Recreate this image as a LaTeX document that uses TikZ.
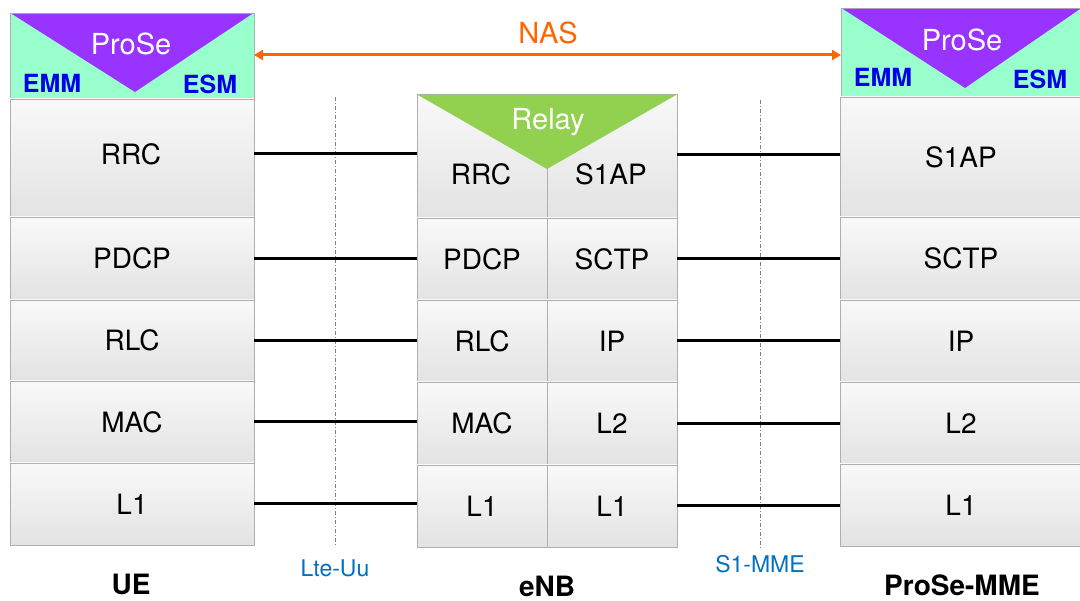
\documentclass[tikz,border=0pt]{standalone}
\usepackage{fontspec}
\setmainfont{TeX Gyre Heros}
\usetikzlibrary{shadows,arrows.meta}
\definecolor{mint}{RGB}{153,255,204}
\definecolor{prosepurple}{RGB}{153,51,255}
\definecolor{relaygreen}{RGB}{146,208,80}
\definecolor{emmblue}{RGB}{0,0,230}
\definecolor{nasorange}{RGB}{255,102,0}
\definecolor{ifblue}{RGB}{0,112,192}
\definecolor{cellborder}{RGB}{175,175,175}
\begin{document}
\begin{tikzpicture}[x=1pt,y=-1pt,
  cell/.style={draw=cellborder, line width=0.8pt, top color=gray!5, bottom color=gray!22,
    inner sep=0pt, outer sep=0pt, anchor=north west, font=\fontsize{28}{32}\selectfont,
    drop shadow={shadow xshift=1.2pt,shadow yshift=-1.2pt,opacity=0.25,fill=black}},
  hdr/.style={draw=cellborder, line width=0.8pt, fill=mint, inner sep=0pt, outer sep=0pt, anchor=north west,
    drop shadow={shadow xshift=1.2pt,shadow yshift=-1.2pt,opacity=0.25,fill=black}},
  tritext/.style={white, font=\fontsize{29}{32}\selectfont},
  subtext/.style={emmblue, font=\bfseries\fontsize{25}{28}\selectfont},
  celltext/.style={font=\fontsize{28}{32}\selectfont},
  link/.style={line width=3pt, black},
  iface/.style={gray, line width=0.8pt, dash pattern=on 4pt off 2pt on 1pt off 2pt},
  ifacelabel/.style={ifblue, font=\fontsize{23}{26}\selectfont},
  entity/.style={black, inner sep=1pt, font=\bfseries\fontsize{28}{32}\selectfont}
]
\useasboundingbox (0,0) rectangle (1080,601);

% ---------- UE ----------
\node[hdr, minimum width=244pt, minimum height=86pt] (ue-hdr) at (10,13) {};
\fill[prosepurple] (12,14) -- (252,14) -- (135,92) -- cycle;
\node[tritext] (ue-prose) at (131,44) {ProSe};
\node[subtext] (ue-emm) at (52,83) {EMM};
\node[subtext] (ue-esm) at (210,84) {ESM};
\node[cell, minimum width=244pt, minimum height=118pt] (ue-rrc) at (10,99) {};
\node[celltext] (ue-rrc-t) at (131,154) {RRC};
\node[cell, minimum width=244pt, minimum height=83pt] (ue-pdcp) at (10,217) {PDCP};
\node[cell, minimum width=244pt, minimum height=81pt] (ue-rlc) at (10,300) {RLC};
\node[cell, minimum width=244pt, minimum height=82pt] (ue-mac) at (10,381) {MAC};
\node[cell, minimum width=244pt, minimum height=82pt] (ue-l1) at (10,463) {L1};

% ---------- eNB ----------
\node[cell, minimum width=130pt, minimum height=124pt] (enb-rrc) at (417,94) {};
\node[cell, minimum width=130pt, minimum height=124pt] (enb-s1ap) at (547,94) {};
\fill[relaygreen] (418,95) -- (676,95) -- (547,169) -- cycle;
\node[tritext] (enb-relay) at (548,122) {Relay};
\node[celltext] (enb-rrc-t) at (481,174) {RRC};
\node[celltext] (enb-s1ap-t) at (611,174) {S1AP};
\node[cell, minimum width=130pt, minimum height=82pt] (enb-pdcp) at (417,218) {PDCP};
\node[cell, minimum width=130pt, minimum height=82pt] (enb-sctp) at (547,218) {SCTP};
\node[cell, minimum width=130pt, minimum height=82pt] (enb-rlc) at (417,300) {RLC};
\node[cell, minimum width=130pt, minimum height=82pt] (enb-ip) at (547,300) {IP};
\node[cell, minimum width=130pt, minimum height=83pt] (enb-mac) at (417,382) {MAC};
\node[cell, minimum width=130pt, minimum height=83pt] (enb-l2) at (547,382) {L2};
\node[cell, minimum width=130pt, minimum height=82pt] (enb-l1a) at (417,465) {L1};
\node[cell, minimum width=130pt, minimum height=82pt] (enb-l1b) at (547,465) {L1};

% ---------- ProSe-MME ----------
\node[hdr, minimum width=242pt, minimum height=89pt] (mme-hdr) at (841,8) {};
\fill[prosepurple] (843,9) -- (1080,9) -- (965,88) -- cycle;
\node[tritext] (mme-prose) at (962,40) {ProSe};
\node[subtext] (mme-emm) at (883,77) {EMM};
\node[subtext] (mme-esm) at (1040,79) {ESM};
\node[cell, minimum width=242pt, minimum height=120pt] (mme-s1ap) at (840,97) {S1AP};
\node[cell, minimum width=242pt, minimum height=83pt] (mme-sctp) at (840,217) {SCTP};
\node[cell, minimum width=242pt, minimum height=82pt] (mme-ip) at (840,300) {IP};
\node[cell, minimum width=242pt, minimum height=82pt] (mme-l2) at (840,382) {L2};
\node[cell, minimum width=242pt, minimum height=82pt] (mme-l1) at (840,464) {L1};

% ---------- interface lines ----------
\coordinate (uu-top) at (335,97);
\coordinate (uu-bot) at (335,547);
\coordinate (s1-top) at (760,100);
\coordinate (s1-bot) at (760,550);
\draw[iface] (uu-top) -- (uu-bot);
\draw[iface] (s1-top) -- (s1-bot);

% ---------- peer links ----------
\draw[link] (ue-rrc.east |- 0,154) -- (enb-rrc.west |- 0,154);
\draw[link] (ue-pdcp.east) -- (enb-pdcp.west |- ue-pdcp.east);
\draw[link] (ue-rlc.east) -- (enb-rlc.west |- ue-rlc.east);
\draw[link] (ue-mac.east) -- (enb-mac.west |- ue-mac.east);
\draw[link] (ue-l1.east) -- (enb-l1a.west |- ue-l1.east);
\draw[link] (enb-s1ap.east |- 0,155) -- (mme-s1ap.west |- 0,155);
\draw[link] (enb-sctp.east) -- (mme-sctp.west |- enb-sctp.east);
\draw[link] (enb-ip.east) -- (mme-ip.west |- enb-ip.east);
\draw[link] (enb-l2.east) -- (mme-l2.west |- enb-l2.east);
\draw[link] (enb-l1b.east) -- (mme-l1.west |- enb-l1b.east);

% ---------- NAS ----------
\draw[nasorange, line width=3pt, {Triangle[length=9pt,width=10pt]}-{Triangle[length=9pt,width=10pt]}]
  (ue-hdr.east |- 0,55) -- (mme-hdr.west |- 0,55);
\node[nasorange, font=\fontsize{29}{32}\selectfont] (nas) at (548,33) {NAS};

% ---------- labels ----------
\node[ifacelabel] (lte-uu) at (335,568) {Lte-Uu};
\node[ifacelabel] (s1-mme) at (760,564) {S1-MME};
\node[entity] (ue-label) at (131,584) {UE};
\node[entity] (enb-label) at (547,586) {eNB};
\node[entity] (mme-label) at (962,585) {ProSe-MME};
\end{tikzpicture}
\end{document}
